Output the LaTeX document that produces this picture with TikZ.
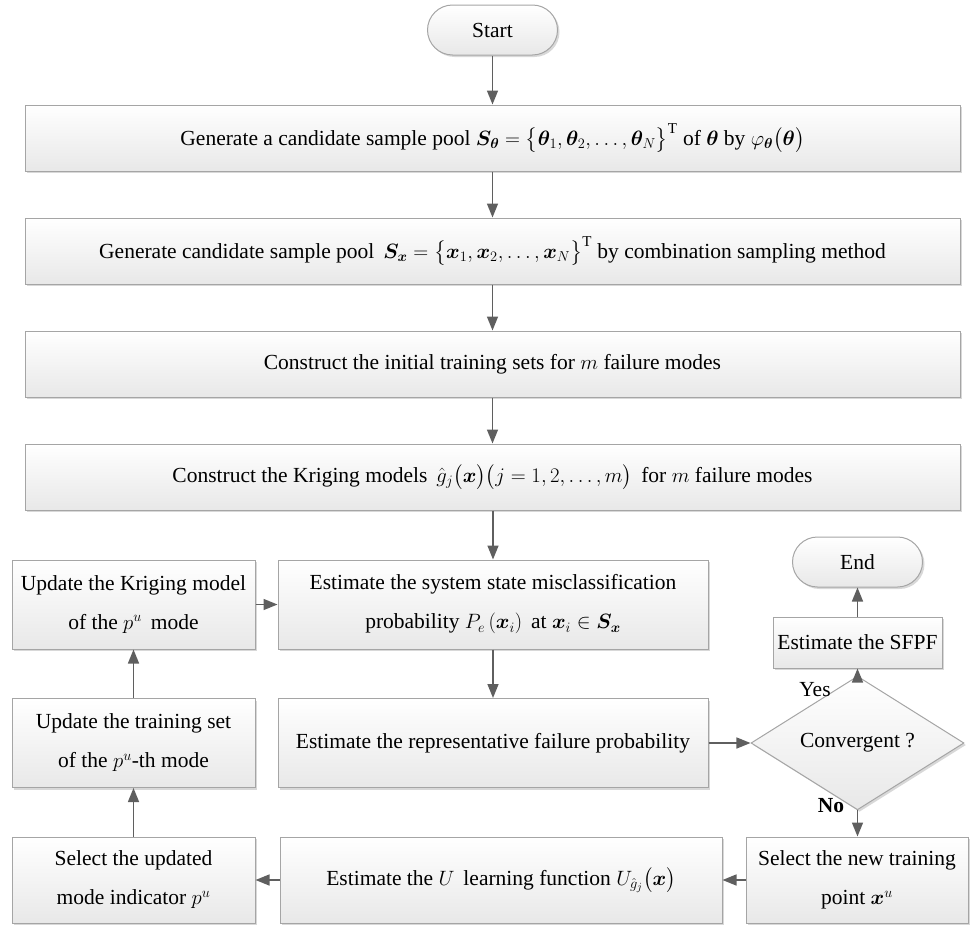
\documentclass[tikz,border=0pt]{standalone}
\usepackage{amsmath}
\usepackage{bm}
\usepackage{fontspec}
\setmainfont{Liberation Serif}
\usepackage{tikz}
\usetikzlibrary{positioning,arrows.meta}
\usetikzlibrary{shapes.geometric}
\usetikzlibrary{shadows}
\definecolor{boxline}{RGB}{165,165,165}
\definecolor{arrowgray}{RGB}{95,95,95}
\tikzstyle{box} = [draw=boxline, line width=1pt, top color=white, bottom color=black!9, drop shadow={shadow xshift=2pt, shadow yshift=-2pt, fill=black!30, opacity=0.5}, align=center, inner sep=0pt, font=\fontsize{21.5}{39}\selectfont]
\tikzstyle{pill} = [box, rounded corners=25pt, minimum width=130, minimum height=50]
\tikzstyle{decide} = [box, diamond, minimum width=213, minimum height=87]
\tikzstyle{go} = [draw=arrowgray, line width=1.5pt, -{Triangle[length=14pt,width=11pt,fill=arrowgray]}]
\tikzstyle{lbl} = [inner sep=0pt, font=\fontsize{21.5}{26}\selectfont]

\begin{document}
\begin{tikzpicture}[x=1pt, y=-1pt]
\useasboundingbox (0,0) rectangle (970,929);

\node[pill] (start) at (492.5,30) {Start};

\node[box, minimum width=935, minimum height=66] (gen_theta) at (492.5,138)
  {Generate a candidate sample pool $\bm{S}_{\bm{\theta}}=\bigl\{\bm{\theta}_1,\bm{\theta}_2,\ldots,\bm{\theta}_N\bigr\}^{\mathrm{T}}$ of $\bm{\theta}$ by $\varphi_{\bm{\theta}}\bigl(\bm{\theta}\bigr)$};
\node[box, minimum width=935, minimum height=66] (gen_x) at (492.5,251)
  {Generate candidate sample pool \,$\bm{S}_{\bm{x}}=\bigl\{\bm{x}_1,\bm{x}_2,\ldots,\bm{x}_N\bigr\}^{\mathrm{T}}$ by combination sampling method};
\node[box, minimum width=935, minimum height=66] (init_set) at (492.5,364)
  {Construct the initial training sets for $m$ failure modes};
\node[box, minimum width=935, minimum height=66] (krig) at (492.5,477)
  {Construct the Kriging models\, $\hat{g}_j\bigl(\bm{x}\bigr)\bigl(j=1,2,\ldots,m\bigr)$\, for $m$ failure modes};

\node[box, minimum width=430, minimum height=89] (misclass) at (493,604.5)
  {Estimate the system state misclassification\\probability $P_e\left(\bm{x}_i\right)$\, at $\bm{x}_i\in\bm{S}_{\bm{x}}$};
\node[box, minimum width=430, minimum height=89] (rep) at (493,743)
  {Estimate the representative failure probability};
\node[box, minimum width=442, minimum height=86] (est_u) at (501,880)
  {Estimate the $U$\, learning function $U_{\hat{g}_j}\bigl(\bm{x}\bigr)$};

\node[box, minimum width=243, minimum height=89] (upd_krig) at (133.5,604.5)
  {Update the Kriging model\\of the $p^u$\, mode};
\node[box, minimum width=243, minimum height=89] (upd_train) at (133.5,743)
  {Update the training set\\of the $p^u$-th mode};
\node[box, minimum width=243, minimum height=86] (sel_mode) at (133.5,880)
  {Select the updated\\mode indicator $p^u$};

\node[pill] (end) at (857.5,562) {End};
\node[box, minimum width=169, minimum height=51] (sfpf) at (857.5,642.5) {Estimate the SFPF};
\node[decide] (conv) at (857.5,743) {Convergent ?};
\node[box, minimum width=222, minimum height=86] (sel_new) at (857,880)
  {Select the new training\\point $\bm{x}^u$};

\node[lbl] (yes) at (815,690) {Yes};
\node[lbl, font=\fontsize{21.5}{26}\selectfont\bfseries] (no) at (831,806) {No};

\draw[go] (start) -- (gen_theta);
\draw[go] (gen_theta) -- (gen_x);
\draw[go] (gen_x) -- (init_set);
\draw[go] (init_set) -- (krig);
\draw[go] (krig.south -| misclass) -- (misclass);
\draw[go] (misclass) -- (rep);
\draw[go] (rep) -- (conv);
\draw[go] (conv) -- (sfpf);
\draw[go] (sfpf) -- (end);
\draw[go] (conv) -- (sel_new.north -| conv);
\draw[go] (sel_new) -- (est_u);
\draw[go] (est_u) -- (sel_mode);
\draw[go] (sel_mode) -- (upd_train);
\draw[go] (upd_train) -- (upd_krig);
\draw[go] (upd_krig) -- (misclass);

\end{tikzpicture}
\end{document}
